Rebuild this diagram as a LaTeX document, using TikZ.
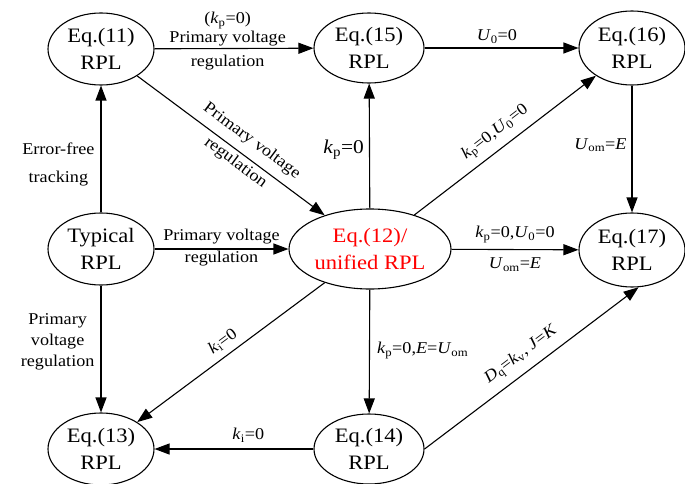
\documentclass[tikz,border=0pt]{standalone}
\usepackage{fontspec}
\setmainfont{Liberation Serif}[FakeStretch=1.1]
\usetikzlibrary{shapes.geometric,arrows.meta}
\newcommand\isub[2]{\textit{#1}\textsubscript{#2}}
\begin{document}
\begin{tikzpicture}[x=1pt,y=-1pt,
  ell/.style={draw, ellipse, line width=1.1pt, inner sep=0pt, minimum width=106pt, minimum height=72pt},
  ntext/.style={font=\fontsize{20.5}{27}\selectfont, align=center, inner sep=0pt},
  arr/.style={line width=1.1pt, -{Triangle[length=15pt,width=11pt]}},
  lbl/.style={font=\fontsize{16.5}{21}\selectfont, align=center, inner sep=1pt},
]
\useasboundingbox (0,0) rectangle (685,484);
% ellipses
\node[ell] (e11) at (101,49) {};
\node[ell, minimum width=110pt, minimum height=70pt] (e15) at (369,48) {};
\node[ell, minimum height=74pt] (e16) at (632,48) {};
\node[ell] (typ) at (101,249) {};
\node[ell, minimum width=162pt, minimum height=80pt] (e12) at (370,249) {};
\node[ell, minimum height=74pt] (e17) at (632,250) {};
\node[ell] (e13) at (101,449) {};
\node[ell, minimum width=110pt, minimum height=70pt] (e14) at (369,449) {};
% texts
\node[ntext] (t11) at (e11) {Eq.(11)\\RPL};
\node[ntext] (t15) at (e15) {Eq.(15)\\RPL};
\node[ntext] (t16) at (e16) {Eq.(16)\\RPL};
\node[ntext] (ttyp) at (typ) {Typical\\RPL};
\node[ntext, text=red] (t12) at (e12) {Eq.(12)/\\unified RPL};
\node[ntext] (t17) at (e17) {Eq.(17)\\RPL};
\node[ntext] (t13) at (e13) {Eq.(13)\\RPL};
\node[ntext] (t14) at (e14) {Eq.(14)\\RPL};
% connectors
\draw[arr] (e11) -- (e15)
  node[lbl, pos=0.46, above=18pt] (l1a) {(\isub{k}{p}=0)}
  node[lbl, pos=0.46, above=1pt] (l1b) {Primary voltage}
  node[lbl, pos=0.46, below=5pt] (l1c) {regulation};
\draw[arr] (e15) -- (e16)
  node[lbl, pos=0.47, above=3pt] (l2) {\isub{U}{0}=0};
\draw[arr] (e16) -- (e17)
  node[lbl, pos=0.47, left=4pt] (l3) {\isub{U}{om}=\textit{E}};
\draw[arr] (typ) -- (e11)
  node[lbl, pos=0.38, left=5pt, font=\fontsize{16.5}{28}\selectfont] (l4) {Error-free\\tracking};
\draw[arr] (typ) -- (e13)
  node[lbl, pos=0.44, left=5pt] (l5) {Primary\\voltage\\regulation};
\draw[arr] (typ) -- (e12)
  node[lbl, pos=0.5, above=3pt] (l6a) {Primary voltage}
  node[lbl, pos=0.5, below=1pt] (l6b) {regulation};
\draw[arr] (e11) -- (e12)
  node[lbl, pos=0.56, sloped, above=7pt] (l7a) {Primary voltage}
  node[lbl, pos=0.56, sloped, below=2pt] (l7b) {regulation};
\draw[arr] (e12) -- (e15)
  node[lbl, pos=0.47, left=4pt, font=\fontsize{19.5}{22}\selectfont] (l8) {\isub{k}{p}=0};
\draw[arr] (e12) -- (e16)
  node[lbl, pos=0.5, sloped, above=6pt] (l9) {\isub{k}{p}=0,\isub{U}{0}=0};
\draw[arr] (e12) -- (e17)
  node[lbl, pos=0.5, above=5pt] (l10a) {\isub{k}{p}=0,\isub{U}{0}=0}
  node[lbl, pos=0.5, below=7pt] (l10b) {\isub{U}{om}=\textit{E}};
\draw[arr] (e12) -- (e14)
  node[lbl, pos=0.49, right=6pt] (l11) {\isub{k}{p}=0,\textit{E}=\isub{U}{om}};
\draw[arr] (e12) -- (e13)
  node[lbl, pos=0.5, sloped, above=5pt] (l12) {\isub{k}{i}=0};
\draw[arr] (e14) -- (e13)
  node[lbl, pos=0.41, above=5pt] (l13) {\isub{k}{i}=0};
\draw[arr] (e14.east) -- (e17.280)
  node[lbl, pos=0.5, sloped, above=7pt] (l14) {\isub{D}{q}=\isub{k}{v}, \textit{J}=\textit{K}};
\end{tikzpicture}
\end{document}
